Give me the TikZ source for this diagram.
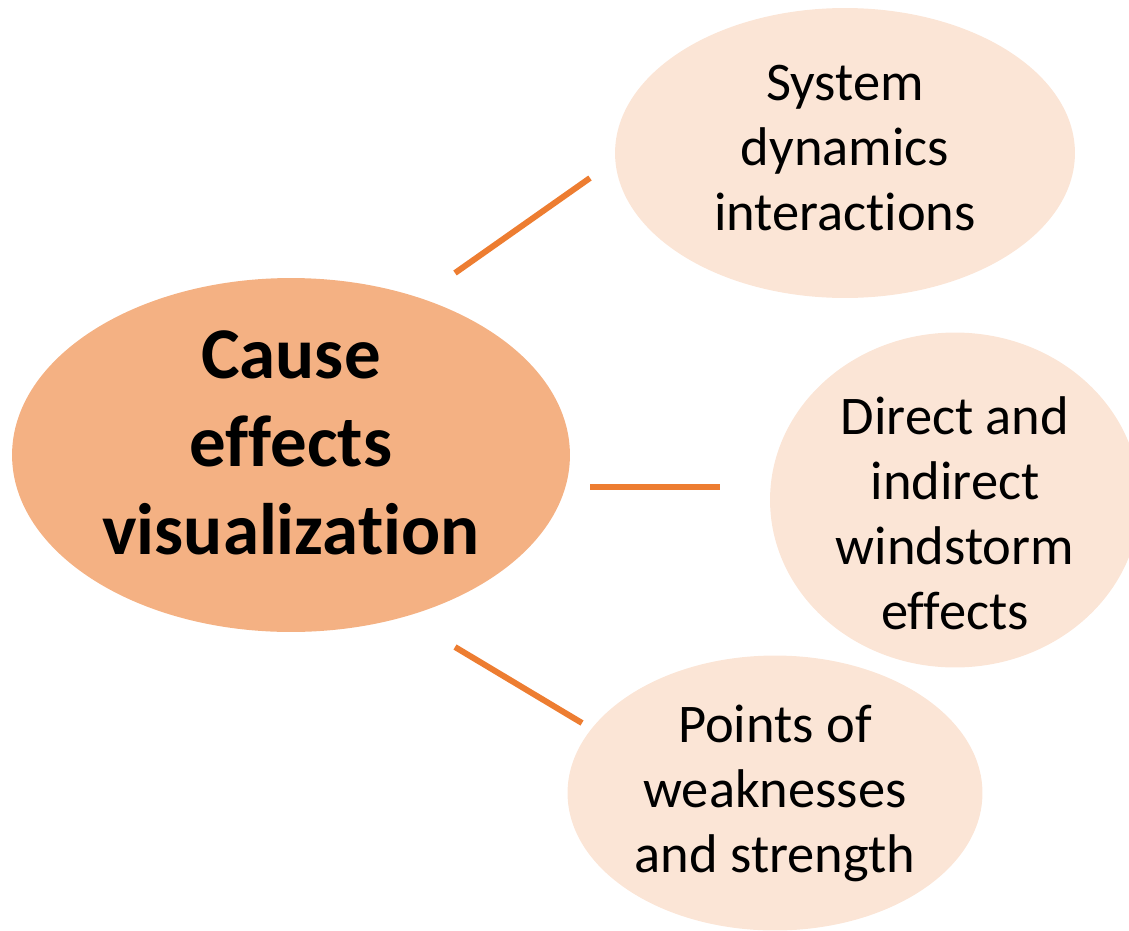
\documentclass[tikz,border=0pt]{standalone}
\usepackage{fontspec}
\setmainfont[Ligatures=NoCommon]{Carlito}
\usetikzlibrary{shapes.geometric}
\definecolor{causefill}{HTML}{F4B183}
\definecolor{effectfill}{HTML}{FBE5D6}
\definecolor{linkorange}{HTML}{ED7D31}
\tikzset{
  causeblob/.style={ellipse, fill=causefill, align=center, inner sep=0pt,
    font=\fontsize{41.5}{50}\selectfont\bfseries},
  effectblob/.style={ellipse, fill=effectfill, align=center, inner sep=0pt,
    font=\fontsize{31}{37}\selectfont},
  link/.style={linkorange, line width=3.4pt}
}
\begin{document}
\begin{tikzpicture}[x=0.02cm,y=-0.02cm]
  \useasboundingbox (0,0) rectangle (1129,930);
  % centre and the three effects
  \node[causeblob, minimum width=11.16cm, minimum height=7.08cm] (cause) at (291,455)
    {Cause\\effects\\visualization\rule[-0.5cm]{0pt}{0pt}};
  \node[effectblob, minimum width=9.2cm, minimum height=5.8cm] (system) at (845,153)
    {System\\dynamics\\interactions\rule[-0.2cm]{0pt}{0pt}};
  \node[effectblob, inner ysep=-1cm, minimum width=7.4cm, minimum height=6.7cm] (direct) at (955,500)
    {\rule{0pt}{1.3cm}Direct and\\indirect\\windstorm\\effects};
  \node[effectblob, minimum width=8.3cm, minimum height=5.5cm] (points) at (775,793)
    {Points of\\weaknesses\\and strength};
  % loose ends of the links
  \coordinate (l1a) at (455,273);
  \coordinate (l1b) at (590,178);
  \coordinate (l2a) at (590,487);
  \coordinate (l2b) at (720,487);
  \coordinate (l3a) at (455,647);
  \coordinate (l3b) at (582,723);
  \draw[link] (l1a) -- (l1b);
  \draw[link] (l2a) -- (l2b);
  \draw[link] (l3a) -- (l3b);
\end{tikzpicture}
\end{document}
